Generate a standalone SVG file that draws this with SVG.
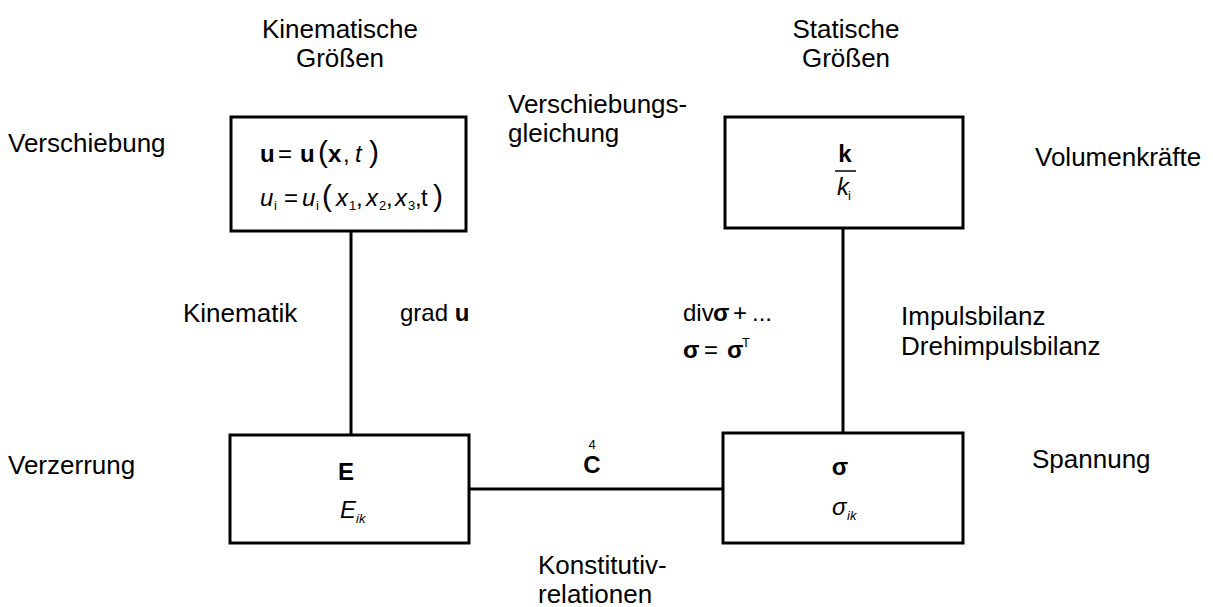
<svg xmlns="http://www.w3.org/2000/svg" width="1213" height="607" viewBox="0 0 1213 607">
  <style>
    text { font-family: "Liberation Sans", Arial, sans-serif; font-size: 26px; fill: #000; }
    .c { text-anchor: middle; }
    .m { font-size: 24px; }
    .b { font-weight: bold; }
    .i { font-style: italic; }
    .p { font-size: 30px; }
    .sub { font-size: 13px; }
    .box { fill: #fff; stroke: #000; stroke-width: 3; }
    .wire { stroke: #000; stroke-width: 3; fill: none; }
  </style>

  <!-- connectors -->
  <g id="connectors">
    <line class="wire" x1="351" y1="231" x2="351" y2="435"/>
    <line class="wire" x1="843" y1="228" x2="843" y2="433"/>
    <line class="wire" x1="469" y1="489" x2="723" y2="489"/>
  </g>

  <!-- column headings -->
  <g id="headings">
    <text class="c" x="340" y="38">Kinematische</text>
    <text class="c" x="340" y="67">Größen</text>
    <text class="c" x="846" y="38">Statische</text>
    <text class="c" x="846" y="67">Größen</text>
  </g>

  <!-- displacement -->
  <g id="node-displacement">
    <rect class="box" x="231" y="117" width="235" height="114"/>
    <text class="m" y="162"><tspan class="b" x="260">u</tspan><tspan x="278">=</tspan><tspan class="b" x="300">u</tspan><tspan class="p" x="318">(</tspan><tspan class="b" x="328">x</tspan><tspan x="343">,</tspan><tspan class="i" x="355">t</tspan><tspan class="p" x="369">)</tspan></text>
    <text class="m" y="206"><tspan class="i" x="260">u</tspan><tspan class="sub" x="274" dy="4">i</tspan><tspan x="284" dy="-4">=</tspan><tspan class="i" x="302">u</tspan><tspan class="sub" x="316" dy="4">i</tspan><tspan class="p" x="322" dy="-4">(</tspan><tspan class="i" x="336">x</tspan><tspan class="sub" x="349" dy="4">1</tspan><tspan x="356" dy="-4">,</tspan><tspan class="i" x="366">x</tspan><tspan class="sub" x="379" dy="4">2</tspan><tspan x="386" dy="-4">,</tspan><tspan class="i" x="395">x</tspan><tspan class="sub" x="408" dy="4">3</tspan><tspan x="415" dy="-4">,</tspan><tspan x="421">t</tspan><tspan class="p" x="433">)</tspan></text>
  </g>

  <!-- body forces -->
  <g id="node-bodyforces">
    <rect class="box" x="725" y="117" width="238" height="111"/>
    <text class="c b m" x="845" y="162">k</text>
    <line x1="835" y1="171" x2="856" y2="171" stroke="#000" stroke-width="1.5"/>
    <text class="m" y="195"><tspan class="i" x="837">k</tspan><tspan class="sub" x="848" dy="5">i</tspan></text>
  </g>

  <!-- strain -->
  <g id="node-strain">
    <rect class="box" x="230" y="435" width="239" height="108"/>
    <text class="c b m" x="346" y="480">E</text>
    <text class="m" y="518"><tspan class="i" x="340">E</tspan><tspan class="sub i" x="356" dy="5">ik</tspan></text>
  </g>

  <!-- stress -->
  <g id="node-stress">
    <rect class="box" x="723" y="433" width="240" height="110"/>
    <text class="c b m" x="840" y="475">σ</text>
    <text class="m" y="515"><tspan class="i" x="832">σ</tspan><tspan class="sub i" x="847" dy="5">ik</tspan></text>
  </g>

  <!-- side labels -->
  <g id="labels">
    <text x="8" y="152">Verschiebung</text>
    <text x="508" y="113">Verschiebungs-</text>
    <text x="508" y="142">gleichung</text>
    <text x="1035" y="166">Volumenkräfte</text>
    <text x="183" y="322">Kinematik</text>
    <text class="m" x="400" y="321">grad <tspan class="b">u</tspan></text>
    <text class="m" y="321"><tspan x="683">div</tspan><tspan class="b" x="713">σ</tspan><tspan x="733">+</tspan><tspan x="752">...</tspan></text>
    <text class="m" y="358"><tspan class="b" x="683">σ</tspan><tspan x="704">=</tspan><tspan class="b" x="727">σ</tspan><tspan class="sub" x="742" dy="-11">T</tspan></text>
    <text x="901" y="325">Impulsbilanz</text>
    <text x="901" y="355">Drehimpulsbilanz</text>
    <text x="8" y="474">Verzerrung</text>
    <text x="1032" y="468">Spannung</text>
    <text class="c sub" x="592" y="449">4</text>
    <text class="c b m" x="592" y="473">C</text>
    <text x="538" y="574">Konstitutiv-</text>
    <text x="538" y="603">relationen</text>
  </g>
</svg>
